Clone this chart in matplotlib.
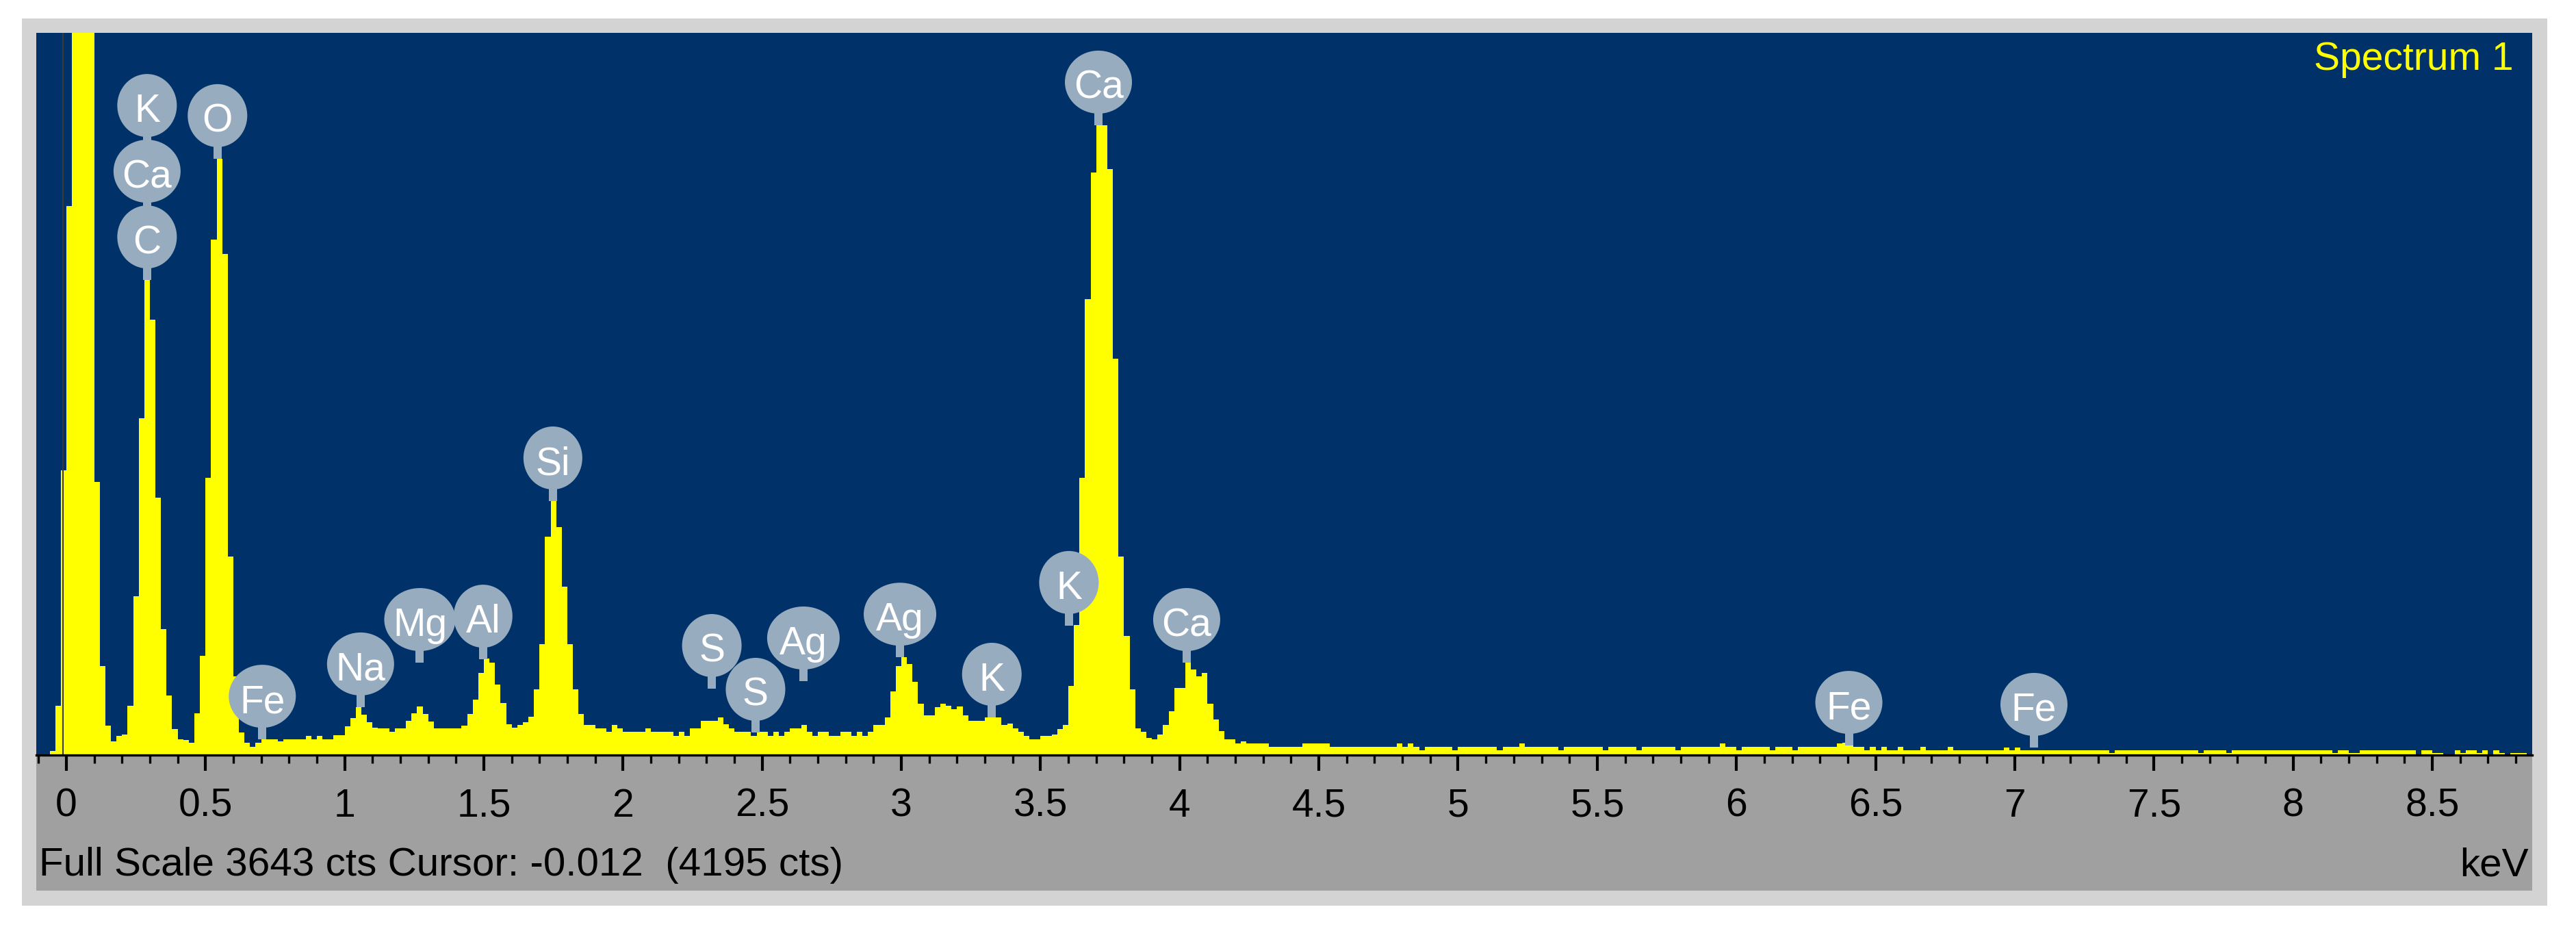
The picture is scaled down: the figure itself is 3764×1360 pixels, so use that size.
import numpy as np
import matplotlib
matplotlib.use("Agg")
import matplotlib.pyplot as plt
import matplotlib.transforms as mtransforms
from matplotlib.patches import Rectangle, Ellipse
from matplotlib.ticker import MultipleLocator, FuncFormatter

# ---------------- data ----------------
bin_start_kev = -0.10
bin_width_kev = 0.02

counts_m01_09 = [0, 0, 21, 250, 1437, 2769, 4195, 5100, 5300, 4700,
                 1377, 450, 150, 70, 95, 102, 250, 800, 1700, 2396,
                 2196, 1300, 635, 300, 130, 80, 75, 62, 210, 500,
                 1400, 2600, 3008, 2528, 1000, 397, 114, 62, 41, 62,
                 80, 80, 80, 70, 80, 80, 80, 80, 97, 80]
counts_09_19 = [97, 80, 80, 100, 100, 145, 186, 242, 204, 166,
                138, 135, 135, 117, 135, 135, 173, 210, 245, 206,
                170, 135, 135, 135, 135, 135, 150, 207, 280, 414,
                487, 466, 356, 262, 155, 138, 152, 166, 193, 330,
                560, 1100, 1285, 1150, 850, 560, 330, 207, 152, 152]
counts_19_29 = [135, 135, 117, 152, 135, 117, 117, 117, 117, 135,
                117, 117, 117, 117, 97, 117, 97, 135, 135, 173,
                173, 173, 190, 155, 135, 117, 117, 117, 97, 117,
                117, 97, 117, 97, 117, 135, 135, 152, 117, 97,
                117, 117, 97, 97, 117, 117, 97, 117, 97, 117]
counts_29_39 = [152, 152, 190, 320, 450, 493, 460, 370, 260, 200,
                200, 240, 260, 250, 230, 246, 200, 173, 173, 173,
                190, 190, 190, 152, 160, 135, 117, 97, 79, 79,
                97, 97, 105, 130, 152, 350, 656, 1400, 2300, 2938,
                3177, 3177, 2956, 2000, 1000, 600, 330, 135, 117, 85]
counts_39_49 = [79, 105, 152, 220, 338, 340, 466, 431, 397, 414,
                260, 180, 120, 79, 79, 59, 70, 59, 59, 59,
                59, 41, 41, 41, 41, 41, 41, 59, 59, 59,
                59, 59, 41, 41, 41, 41, 41, 41, 41, 41,
                41, 41, 41, 41, 59, 41, 59, 41, 24, 41]
counts_49_59 = [41, 41, 41, 41, 24, 41, 41, 41, 41, 41,
                41, 41, 24, 41, 41, 41, 59, 41, 41, 41,
                41, 41, 41, 24, 41, 41, 41, 41, 41, 41,
                41, 24, 41, 41, 41, 41, 41, 24, 41, 41,
                41, 41, 41, 41, 24, 41, 41, 41, 41, 41]
counts_59_69 = [41, 41, 59, 41, 41, 24, 41, 41, 41, 41,
                41, 24, 41, 41, 41, 24, 41, 41, 41, 41,
                41, 41, 41, 59, 62, 59, 41, 41, 24, 41,
                24, 41, 24, 24, 41, 24, 24, 24, 41, 24,
                24, 24, 24, 41, 24, 24, 24, 24, 24, 24]
counts_69_79 = [24, 24, 24, 38, 24, 38, 24, 24, 24, 24,
                24, 24, 24, 24, 24, 24, 24, 24, 24, 24,
                24, 24, 12, 24, 24, 24, 24, 24, 24, 24,
                24, 24, 24, 24, 24, 24, 24, 24, 12, 24,
                24, 24, 24, 12, 24, 24, 24, 24, 24, 24]
counts_79_886 = [24, 24, 24, 24, 24, 24, 24, 24, 24, 24,
                 24, 24, 10, 24, 24, 12, 12, 24, 24, 24,
                 24, 24, 24, 24, 24, 24, 24, 0, 24, 24,
                 12, 10, 0, 0, 24, 12, 24, 24, 12, 24,
                 0, 24, 12, 0, 10, 12, 12, 0]

full_scale_cts = 3643
x_min_kev = -0.108
x_max_kev = 8.859
cursor_kev = -0.012
cursor_cts = 4195
spectrum_title = "Spectrum 1"
axis_unit = "keV"

marker_labels = ["K", "Ca", "C", "O", "Fe", "Na", "Mg", "Al", "Si", "S", "S",
                 "Ag", "Ag", "K", "K", "Ca", "Ca", "Fe", "Fe"]
marker_kev = [0.29, 0.29, 0.29, 0.543, 0.704, 1.057, 1.27, 1.497, 1.748, 2.319, 2.476,
              2.648, 2.995, 3.325, 3.602, 3.708, 4.025, 6.404, 7.069]
marker_cts = [2396, 2396, 2396, 3008, 79, 242, 466, 483, 1281, 335, 114,
              373, 493, 190, 653, 3177, 466, 48, 38]
marker_stack = [2, 1, 0, 0, 0, 0, 0, 0, 0, 0, 0, 0, 0, 0, 0, 0, 0, 0, 0]

# ---------------- style ----------------
plt.rcParams['font.family'] = ['Liberation Sans', 'DejaVu Sans']
W, H = 3764, 1360
DPI = 100
BLUE = '#003269'
YELLOW = '#FFFF00'
FRAME = '#D3D3D3'
PANEL = '#A0A0A0'
BUBBLE = '#98ACC0'
bubble_w = {"K": 87, "C": 87, "O": 87, "S": 87, "Al": 86, "Si": 86,
            "Ca": 98, "Fe": 98, "Na": 98, "Mg": 104, "Ag": 106}

counts = np.concatenate([counts_m01_09, counts_09_19, counts_19_29, counts_29_39,
                         counts_39_49, counts_49_59, counts_59_69, counts_69_79,
                         counts_79_886]).astype(float)
edges = bin_start_kev + bin_width_kev * np.arange(len(counts) + 1)

fig = plt.figure(figsize=(W / DPI, H / DPI), dpi=DPI, facecolor='white')

def fx(px):
    return px / W

def fy(py):
    return 1 - py / H

# outer light-grey frame and darker grey lower panel (behind the axes)
fig.patches.append(Rectangle((fx(32), fy(1323)), fx(3722) - fx(32), fy(27) - fy(1323),
                             transform=fig.transFigure, facecolor=FRAME,
                             edgecolor='none', zorder=-10))
fig.patches.append(Rectangle((fx(53), fy(1301)), fx(3700) - fx(53), fy(1103) - fy(1301),
                             transform=fig.transFigure, facecolor=PANEL,
                             edgecolor='none', zorder=-9))

ax = fig.add_axes([fx(53), fy(1103), fx(3700) - fx(53), fy(48) - fy(1103)], facecolor=BLUE)
ax.set_zorder(1)
ax.stairs(counts, edges, fill=True, color=YELLOW, linewidth=0, baseline=0, zorder=2)
ax.axvline(cursor_kev, color='#3a3a3a', lw=1.5, zorder=3)
ax.set_xlim(x_min_kev, x_max_kev)
ax.set_ylim(0, full_scale_cts)

for s in ('left', 'right', 'top'):
    ax.spines[s].set_visible(False)
ax.spines['bottom'].set_color('black')
ax.spines['bottom'].set_linewidth(2.4)
ax.spines['bottom'].set_zorder(4)
ax.set_yticks([])
ax.xaxis.set_major_locator(MultipleLocator(0.5))
ax.xaxis.set_minor_locator(MultipleLocator(0.1))
ax.xaxis.set_major_formatter(FuncFormatter(lambda v, p: f"{v:g}"))
ax.tick_params(axis='x', which='major', direction='out', length=16.5, width=3,
               color='black', labelsize=41, pad=18, labelcolor='black')
ax.tick_params(axis='x', which='minor', direction='out', length=8.6, width=2.4,
               color='black')

fig.text(fx(57), fy(1279),
         f"Full Scale {full_scale_cts} cts Cursor: {cursor_kev:.3f}  ({cursor_cts} cts)",
         fontsize=42, ha='left', va='baseline', color='black', zorder=5)
fig.text(fx(3695), fy(1279), axis_unit, fontsize=42, ha='right', va='baseline',
         color='black', zorder=5)
ax.text(fx(3673 - 53) / fx(3700 - 53), (1103 - 102) / (1103 - 48), spectrum_title,
        transform=ax.transAxes, fontsize=41, ha='right', va='baseline', color=YELLOW,
        zorder=6)

# element markers: stem + ellipse bubble + white label, sized in pixels
px = mtransforms.Affine2D().scale(fig.dpi / 100.0)
STEM_W, STEM_H, BUB_H, CENTER, STEP = 12, 17, 92, 63, 96
for lab, e, c, lvl in zip(marker_labels, marker_kev, marker_cts, marker_stack):
    tr = px + mtransforms.ScaledTranslation(e, c, ax.transData)
    cy = CENTER + STEP * lvl
    if lvl == 0:
        ax.add_artist(Rectangle((-STEM_W / 2, 0), STEM_W, STEM_H + 4, transform=tr,
                                facecolor=BUBBLE, edgecolor='none', zorder=5))
    else:
        ax.add_artist(Rectangle((-STEM_W / 2, cy - STEP + BUB_H / 2 - 4), STEM_W, 10,
                                transform=tr, facecolor=BUBBLE, edgecolor='none', zorder=5))
    ax.add_artist(Ellipse((0, cy), bubble_w.get(lab, 90), BUB_H, transform=tr,
                          facecolor=BUBBLE, edgecolor='none', zorder=5))
    ax.annotate(lab, xy=(e, c), xycoords='data', xytext=(0, cy - 24),
                textcoords='offset pixels', ha='center', va='baseline',
                color='white', fontsize=41, zorder=6, annotation_clip=False)

fig.savefig('out.png', dpi=DPI, facecolor='white')
